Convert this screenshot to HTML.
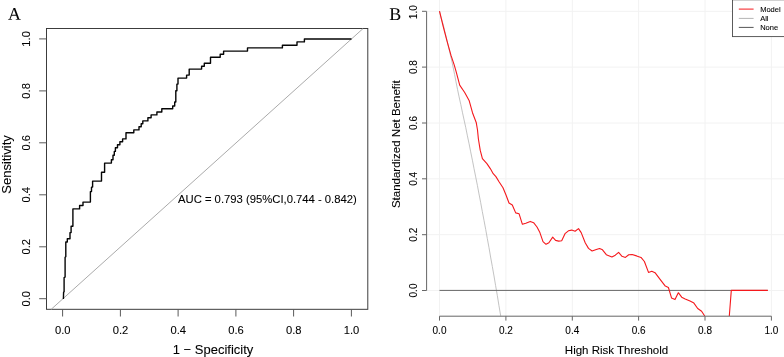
<!DOCTYPE html>
<html><head><meta charset="utf-8"><title>ROC and decision curve</title>
<style>
html,body{margin:0;padding:0;background:#fff;}
svg{display:block}
text{font-family:"Liberation Sans",Arial,sans-serif;fill:#000;stroke:#000;stroke-width:0.08px}
.serif{font-family:"Liberation Serif","Times New Roman",serif;fill:#000}
</style></head><body>
<svg width="784" height="357" viewBox="0 0 784 357">
<rect width="784" height="357" fill="#fff"/>
<!-- Panel A -->
<text class="serif" transform="translate(7.9,19.75) rotate(0.03)" font-size="17.9">A</text>
<g fill="none" stroke="#333" stroke-width="0.95">
<rect x="46.5" y="28.5" width="321.3" height="280.8"/>
</g>
<g stroke="#5a5a5a" stroke-width="1" fill="none">
<line x1="62.6" y1="309.3" x2="62.6" y2="316.5"/><line x1="120.4" y1="309.3" x2="120.4" y2="316.5"/><line x1="178.1" y1="309.3" x2="178.1" y2="316.5"/><line x1="235.9" y1="309.3" x2="235.9" y2="316.5"/><line x1="293.6" y1="309.3" x2="293.6" y2="316.5"/><line x1="351.4" y1="309.3" x2="351.4" y2="316.5"/>
<line x1="39.2" y1="298.7" x2="46.4" y2="298.7"/><line x1="39.2" y1="246.8" x2="46.4" y2="246.8"/><line x1="39.2" y1="194.8" x2="46.4" y2="194.8"/><line x1="39.2" y1="142.8" x2="46.4" y2="142.8"/><line x1="39.2" y1="90.9" x2="46.4" y2="90.9"/><line x1="39.2" y1="38.9" x2="46.4" y2="38.9"/>
</g>
<g font-size="11.2" text-anchor="middle">
<text x="62.7" y="334">0.0</text><text x="120.5" y="334">0.2</text><text x="178.2" y="334">0.4</text><text x="236.0" y="334">0.6</text><text x="293.7" y="334">0.8</text><text x="351.5" y="334">1.0</text>
<text transform="translate(30.2,298.7) rotate(-90)">0.0</text><text transform="translate(30.2,246.8) rotate(-90)">0.2</text><text transform="translate(30.2,194.8) rotate(-90)">0.4</text><text transform="translate(30.2,142.8) rotate(-90)">0.6</text><text transform="translate(30.2,90.9) rotate(-90)">0.8</text><text transform="translate(30.2,38.9) rotate(-90)">1.0</text>
</g>
<text x="213" y="353.7" font-size="13" text-anchor="middle">1 − Specificity</text>
<text transform="translate(11.3,164.4) rotate(-90)" font-size="13" text-anchor="middle">Sensitivity</text>
<line x1="51.2" y1="309.3" x2="363.1" y2="28.5" stroke="#aaa" stroke-width="1"/>
<polyline points="63.3,298.6 63.5,292.0 64.0,291.5 64.0,277.3 65.0,276.8 65.0,257.0 65.7,256.5 65.7,241.7 67.2,241.7 67.2,238.4 69.9,238.4 69.9,232.3 71.0,232.3 71.0,226.0 72.8,226.0 72.8,208.6 79.5,208.6 79.5,205.2 82.9,205.2 82.9,201.8 90.3,201.8 90.3,191.3 91.4,191.3 91.4,186.8 92.5,186.8 92.5,180.8 101.4,180.8 101.4,171.9 104.5,171.9 104.5,162.8 111.3,162.8 111.3,159.4 112.9,159.4 112.9,154.9 114.2,154.9 114.2,151.1 115.3,151.1 115.3,147.5 117.4,147.5 117.4,144.4 119.8,144.4 119.8,141.5 122.5,141.5 122.5,138.6 125.9,138.6 125.9,132.5 133.7,132.5 133.7,129.6 138.9,129.6 138.9,126.5 141.1,126.5 141.1,123.5 142.7,123.5 142.7,120.6 147.8,120.6 147.8,117.5 151.0,117.5 151.0,114.6 156.8,114.6 156.8,111.7 161.7,111.7 161.7,108.5 172.6,108.5 172.6,105.7 174.6,105.7 174.6,101.7 175.7,101.7 175.7,90.5 176.8,90.5 176.8,83.8 177.9,83.8 177.9,77.8 186.5,77.8 186.5,74.8 189.1,74.8 189.1,68.8 201.5,68.8 201.5,65.9 204.2,65.9 204.2,63.0 210.4,63.0 210.4,56.9 220.1,56.9 220.1,54.0 223.5,54.0 223.5,50.8 247.4,50.8 247.4,47.6 282.3,47.6 282.3,44.9 296.9,44.9 296.9,41.6 304.3,41.6 304.3,38.7 351.4,38.7" fill="none" stroke="#050505" stroke-width="1.4" transform="translate(0.1,0.3)" stroke-linejoin="round"/>
<text x="178.0" y="203.4" font-size="11.27">AUC = 0.793 (95%CI,0.744 - 0.842)</text>
<!-- Panel B -->
<text class="serif" transform="translate(389.3,20.0) rotate(0.03)" font-size="17.9">B</text>
<g stroke="#f2f2f2" stroke-width="1" fill="none">
<line x1="439.5" y1="0" x2="439.5" y2="316"/><line x1="505.9" y1="0" x2="505.9" y2="316"/><line x1="572.3" y1="0" x2="572.3" y2="316"/><line x1="638.6" y1="0" x2="638.6" y2="316"/><line x1="705.0" y1="0" x2="705.0" y2="316"/><line x1="771.4" y1="0" x2="771.4" y2="316"/>
<line x1="427" y1="290.5" x2="784" y2="290.5"/><line x1="427" y1="234.7" x2="784" y2="234.7"/><line x1="427" y1="178.8" x2="784" y2="178.8"/><line x1="427" y1="123.0" x2="784" y2="123.0"/><line x1="427" y1="67.1" x2="784" y2="67.1"/><line x1="427" y1="11.3" x2="784" y2="11.3"/>
</g>
<polyline points="439.5,11.4 441.2,18.1 443.3,24.9 444.9,31.8 446.6,38.7 448.2,45.7 449.9,52.8 451.6,60.0 453.1,67.2 454.6,74.5 456.0,81.9 457.5,89.3 459.1,96.9 460.8,104.5 462.4,112.2 464.1,120.0 465.8,127.8 467.4,135.8 469.1,143.8 470.7,151.9 472.4,160.2 474.0,168.5 475.7,176.9 477.4,185.4 479.0,194.0 480.7,202.7 482.3,211.5 484.0,220.4 485.7,229.4 487.3,238.5 489.0,247.7 490.6,257.0 492.3,266.4 494.0,276.0 495.6,285.6 497.3,295.4 498.9,305.3 500.6,315.3 500.7,316.2" fill="none" stroke="#b8b8b8" stroke-width="0.85"/>
<line x1="439.5" y1="290.4" x2="767.8" y2="290.4" stroke="#666" stroke-width="1"/>
<polyline points="439.5,11.2 443.1,26.0 446.9,40.7 451.0,55.4 454.2,64.9 456.2,71.8 459.7,85.1 464.7,92.5 469.1,100.4 472.5,112.7 476.3,122.8 477.5,130.0 478.4,139.0 480.2,150.2 482.4,158.7 486.9,163.6 490.3,168.6 493.2,173.7 495.9,176.6 499.2,182.0 503.0,187.8 506.0,195.0 509.0,203.0 512.3,205.0 515.7,212.9 519.1,213.8 522.4,224.3 525.8,223.2 530.3,221.4 533.6,222.7 537.0,227.0 539.9,232.6 543.0,241.6 546.0,244.3 548.9,242.7 552.7,237.1 555.6,240.4 558.7,241.1 561.7,240.7 565.0,233.7 568.4,230.8 571.7,230.1 575.1,231.3 578.5,228.6 581.2,232.6 585.2,242.8 588.5,248.4 592.1,251.0 596.3,249.5 599.6,248.5 602.5,249.8 606.3,254.7 611.9,257.0 615.3,255.2 618.6,252.3 622.0,256.3 625.4,257.4 628.7,254.7 632.1,254.5 636.6,255.9 641.0,257.4 644.4,261.5 648.5,272.4 651.8,271.3 655.0,272.7 660.1,279.4 665.3,286.1 668.4,287.5 671.6,298.1 675.0,299.6 678.3,292.7 681.7,297.2 685.2,298.9 690.0,301.1 693.9,303.1 697.7,308.5 701.6,311.3 704.7,316.0" fill="none" stroke="#f5181c" stroke-width="1.1" stroke-linejoin="round"/>
<polyline points="729.3,316.0 731.3,290.4 767.8,290.4" fill="none" stroke="#f5181c" stroke-width="1.1" stroke-linejoin="round"/>
<g stroke="#666" stroke-width="1" fill="none">
<path d="M426.6,11.4V290.5"/>
<path d="M439.5,316.2H771.4"/>
<line x1="439.5" y1="316.2" x2="439.5" y2="320.6"/><line x1="505.9" y1="316.2" x2="505.9" y2="320.6"/><line x1="572.3" y1="316.2" x2="572.3" y2="320.6"/><line x1="638.6" y1="316.2" x2="638.6" y2="320.6"/><line x1="705.0" y1="316.2" x2="705.0" y2="320.6"/><line x1="771.4" y1="316.2" x2="771.4" y2="320.6"/>
<line x1="422" y1="290.5" x2="426.6" y2="290.5"/><line x1="422" y1="234.7" x2="426.6" y2="234.7"/><line x1="422" y1="178.8" x2="426.6" y2="178.8"/><line x1="422" y1="123.0" x2="426.6" y2="123.0"/><line x1="422" y1="67.1" x2="426.6" y2="67.1"/><line x1="422" y1="11.3" x2="426.6" y2="11.3"/>
</g>
<g font-size="10" text-anchor="middle">
<text x="439.5" y="333.8">0.0</text><text x="505.9" y="333.8">0.2</text><text x="572.3" y="333.8">0.4</text><text x="638.6" y="333.8">0.6</text><text x="705.0" y="333.8">0.8</text><text x="771.4" y="333.8">1.0</text>
<text transform="translate(417.2,290.5) rotate(-90)">0.0</text><text transform="translate(417.2,234.7) rotate(-90)">0.2</text><text transform="translate(417.2,178.8) rotate(-90)">0.4</text><text transform="translate(417.2,123.0) rotate(-90)">0.6</text><text transform="translate(417.2,67.1) rotate(-90)">0.8</text><text transform="translate(417.2,12.2) rotate(-90)">1.0</text>
</g>
<text x="616.5" y="353.8" font-size="11.5" text-anchor="middle">High Risk Threshold</text>
<text transform="translate(399.8,144.2) rotate(-90)" font-size="11.5" text-anchor="middle">Standardized Net Benefit</text>
<!-- legend -->
<rect x="732.5" y="-0.2" width="56" height="36.8" fill="#fff" stroke="#4a4a4a" stroke-width="0.9"/>
<line x1="738.8" y1="9.1" x2="753.6" y2="9.1" stroke="#f5181c" stroke-width="1"/>
<line x1="738.8" y1="18.4" x2="753.6" y2="18.4" stroke="#b5b5b5" stroke-width="1"/>
<line x1="738.8" y1="27.4" x2="753.6" y2="27.4" stroke="#555" stroke-width="1"/>
<g font-size="7.5">
<text x="760.2" y="11.7">Model</text>
<text x="760.2" y="21">All</text>
<text x="760.2" y="30">None</text>
</g>
</svg>
</body></html>
